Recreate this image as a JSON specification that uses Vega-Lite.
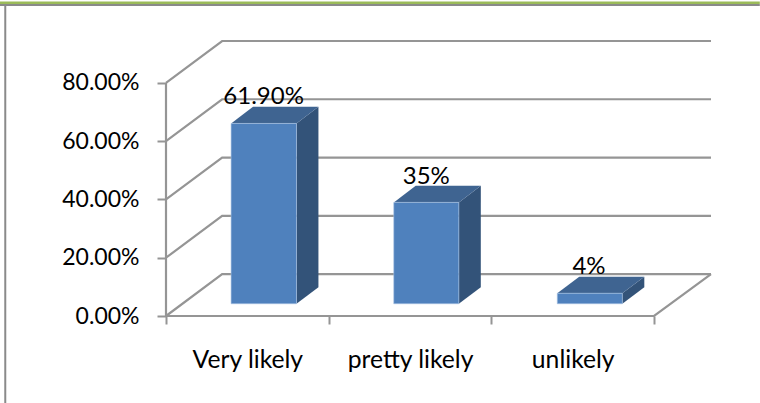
{"$schema":"https://vega.github.io/schema/vega-lite/v6.json","width":545,"height":275,"autosize":"none","padding":{"left":166,"top":41,"right":49,"bottom":87},"background":"white","config":{"view":{"stroke":null},"font":"Lato"},
"datasets":{
"frame":[{"part":"green","x":-1.03,"x2":3.65,"y":1.075,"y2":1.075},{"part":"grey top","x":-1.03,"x2":3.65,"y":1.068,"y2":1.068},{"part":"grey left","x":-0.988,"x2":-0.988,"y":1.068,"y2":-0.3}],
"grid":[
{"line":"0","o":1,"x":0,"y":0},{"line":"0","o":2,"x":0.345,"y":0.144},{"line":"0","o":3,"x":3.35,"y":0.144},
{"line":"20","o":1,"x":0,"y":0.2},{"line":"20","o":2,"x":0.345,"y":0.344},{"line":"20","o":3,"x":3.35,"y":0.344},
{"line":"40","o":1,"x":0,"y":0.4},{"line":"40","o":2,"x":0.345,"y":0.544},{"line":"40","o":3,"x":3.35,"y":0.544},
{"line":"60","o":1,"x":0,"y":0.6},{"line":"60","o":2,"x":0.345,"y":0.744},{"line":"60","o":3,"x":3.35,"y":0.744},
{"line":"80","o":1,"x":0,"y":0.8},{"line":"80","o":2,"x":0.345,"y":0.944},{"line":"80","o":3,"x":3.35,"y":0.944},
{"line":"floor","o":1,"x":0,"y":0},{"line":"floor","o":2,"x":3,"y":0},{"line":"floor","o":3,"x":3.35,"y":0.144},
{"line":"wall","o":1,"x":0,"y":0},{"line":"wall","o":2,"x":0,"y":0.8}],
"bars":[
{"category":"Very likely","left":0.4,"right":0.802,"base":0.042,"top":0.661},
{"category":"pretty likely","left":1.4,"right":1.8,"base":0.042,"top":0.39},
{"category":"unlikely","left":2.405,"right":2.805,"base":0.042,"top":0.078}],
"sides":[
{"category":"Very likely","x":0.802,"top":0.661,"base":0.042},{"category":"Very likely","x":0.937,"top":0.718,"base":0.099},
{"category":"pretty likely","x":1.8,"top":0.39,"base":0.042},{"category":"pretty likely","x":1.935,"top":0.447,"base":0.099},
{"category":"unlikely","x":2.805,"top":0.078,"base":0.042},{"category":"unlikely","x":2.94,"top":0.135,"base":0.099}],
"tops":[
{"category":"Very likely","y":0.661,"left":0.4,"right":0.802},{"category":"Very likely","y":0.718,"left":0.535,"right":0.937},
{"category":"pretty likely","y":0.39,"left":1.4,"right":1.8},{"category":"pretty likely","y":0.447,"left":1.535,"right":1.935},
{"category":"unlikely","y":0.078,"left":2.405,"right":2.805},{"category":"unlikely","y":0.135,"left":2.54,"right":2.94}],
"labels":[
{"label":"61.90%","x":0.6,"y":0.728},
{"label":"35%","x":1.6,"y":0.454},
{"label":"4%","x":2.6,"y":0.145}]
},
"encoding":{"x":{"type":"quantitative","title":null,"scale":{"domain":[0,3.35],"nice":false,"zero":false},
"axis":{"title":null,"domain":false,"grid":false,"values":[0,0.5,1,1.5,2,2.5,3],"tickSize":8,"tickWidth":2,"tickColor":"#959595","tickOpacity":{"condition":{"test":"datum.value%1!==0","value":0},"value":1},"labelExpr":"datum.value==0.5?'Very likely':datum.value==1.5?'pretty likely':datum.value==2.5?'unlikely':''","labelFont":"Lato","labelFontSize":24.7,"labelColor":"#000","labelPadding":23,"labelFlush":false,"labelOverlap":false,"labelBound":false}},
"y":{"type":"quantitative","title":null,"scale":{"domain":[0,0.944],"nice":false,"zero":false},
"axis":{"title":null,"domain":false,"grid":false,"values":[0,0.2,0.4,0.6,0.8],"format":".2%","tickSize":9,"tickWidth":2,"tickColor":"#959595","labelFont":"Lato","labelFontSize":23,"labelColor":"#000","labelPadding":18,"labelFlush":false,"labelOverlap":false,"labelBound":false}}},
"layer":[
{"data":{"name":"grid"},"mark":{"type":"line","color":"#959595","strokeWidth":2.2,"clip":false},
"encoding":{"detail":{"field":"line"},"order":{"field":"o"},"x":{"field":"x","type":"quantitative"},"y":{"field":"y","type":"quantitative"}}},
{"data":{"name":"sides"},"mark":{"type":"area","orient":"vertical","color":"#335379"},
"encoding":{"detail":{"field":"category"},"x":{"field":"x","type":"quantitative"},"y":{"field":"top","type":"quantitative"},"y2":{"field":"base"}}},
{"data":{"name":"tops"},"mark":{"type":"area","orient":"horizontal","color":"#3f6491"},
"encoding":{"detail":{"field":"category"},"y":{"field":"y","type":"quantitative"},"x":{"field":"left","type":"quantitative"},"x2":{"field":"right"}}},
{"data":{"name":"bars"},"mark":{"type":"rect","color":"#4f81bd","stroke":"#a9c4e4","strokeWidth":0.6},
"encoding":{"x":{"field":"left","type":"quantitative"},"x2":{"field":"right"},"y":{"field":"top","type":"quantitative"},"y2":{"field":"base"}}},
{"data":{"name":"labels"},"mark":{"type":"text","font":"Lato","fontSize":24,"color":"#000","align":"center","baseline":"alphabetic"},
"encoding":{"x":{"field":"x","type":"quantitative"},"y":{"field":"y","type":"quantitative"},"text":{"field":"label"}}},
{"data":{"name":"frame"},"transform":[{"filter":"datum.part!='green'"}],"mark":{"type":"rule","color":"#8a8a8a","strokeWidth":2,"clip":false},
"encoding":{"x":{"field":"x","type":"quantitative"},"x2":{"field":"x2"},"y":{"field":"y","type":"quantitative"},"y2":{"field":"y2"}}},
{"data":{"name":"frame"},"transform":[{"filter":"datum.part=='green'"}],"mark":{"type":"rule","color":"#9bbb59","strokeWidth":2.5,"clip":false},
"encoding":{"x":{"field":"x","type":"quantitative"},"x2":{"field":"x2"},"y":{"field":"y","type":"quantitative"},"y2":{"field":"y2"}}}
]}
